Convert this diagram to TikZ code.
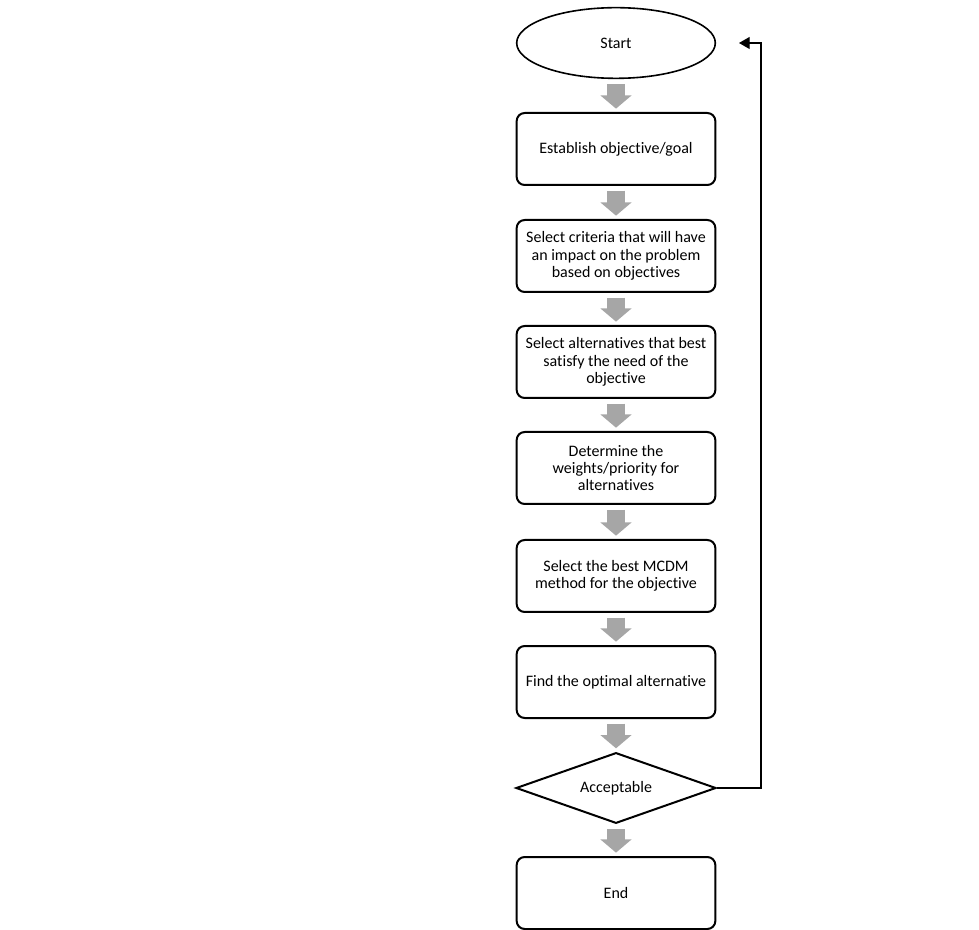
\documentclass[tikz,border=0pt]{standalone}
\usepackage{fontspec}
\setmainfont{Carlito}[Ligatures=NoCommon]
\usetikzlibrary{shapes.geometric,arrows.meta}
\tikzset{
  stepbox/.style={draw,line width=1.5pt,rounded corners=6pt,minimum width=149pt,minimum height=54pt,align=center,inner sep=2pt},
  startbox/.style={draw,ellipse,line width=1.2pt,minimum width=149pt,minimum height=53pt,inner sep=1pt},
  decbox/.style={draw,diamond,aspect=2.8,line width=1.5pt,minimum width=150pt,minimum height=53pt,inner sep=1pt},
  flow/.style={draw=black!35,line width=13.5pt,-{Triangle[length=10pt,width=23pt]},shorten <=3.5pt,shorten >=2.5pt},
  loopback/.style={line width=0.8pt,-{Triangle[length=8pt,width=9pt]}}
}
\begin{document}
\begin{tikzpicture}[x=0.75pt,y=-0.75pt,font=\fontsize{12}{13}\selectfont]
      \useasboundingbox (0,0) rectangle (979,930);
      \node[startbox] (start) at (616,43) {Start};
      \node[stepbox] (goal) at (616,149) {Establish objective/goal};
      \node[stepbox] (crit) at (616,256) {Select criteria that will have\\an impact on the problem\\based on objectives};
      \node[stepbox] (alt) at (616,362) {Select alternatives that best\\satisfy the need of the\\objective};
      \node[stepbox] (wgt) at (616,468) {Determine the\\weights/priority for\\alternatives};
      \node[stepbox] (mcdm) at (616,576) {Select the best MCDM\\method for the objective};
      \node[stepbox] (opt) at (616,682) {Find the optimal alternative};
      \node[decbox] (acc) at (616,788) {Acceptable};
      \node[stepbox] (stop) at (616,893) {End};
      \coordinate (back) at (739,43);
      \begin{scope}[flow]
        \draw (start) to (goal);
        \draw (goal) to (crit);
        \draw (crit) to (alt);
        \draw (alt) to (wgt);
        \draw (wgt) to (mcdm);
        \draw (mcdm) to (opt);
        \draw (opt) to (acc);
        \draw (acc) to (stop);
      \end{scope}
      \draw[loopback] (acc.east) -- ++(44,0) |- (back);
    \end{tikzpicture}
\end{document}
